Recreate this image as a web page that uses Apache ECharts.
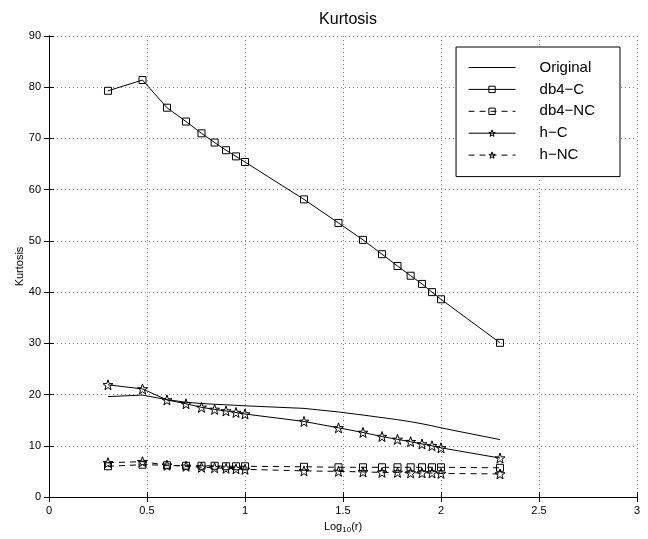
<!DOCTYPE html>
<html>
<head>
<meta charset="utf-8">
<script src="https://cdn.jsdelivr.net/npm/echarts@6/dist/echarts.min.js"></script>
<style>
  html, body { margin: 0; padding: 0; background: #fff; }
  #main { width: 648px; height: 539px; }
</style>
</head>
<body>
<div id="main"></div>
<script>
// log10(r), r = 2..10, 20..100, 200
var logR = [0.301, 0.477, 0.602, 0.699, 0.778, 0.845, 0.903, 0.954, 1.0,
            1.301, 1.477, 1.602, 1.699, 1.778, 1.845, 1.903, 1.954, 2.0, 2.301];

var original = [19.6, 19.9, 19.0, 18.5, 18.25, 18.1, 18.0, 17.9, 17.8,
                17.3, 16.6, 16.0, 15.5, 15.1, 14.7, 14.3, 13.9, 13.5, 11.2];
var db4C = [79.3, 81.4, 76.0, 73.3, 71.0, 69.2, 67.7, 66.5, 65.4,
            58.1, 53.5, 50.2, 47.4, 45.1, 43.2, 41.6, 40.0, 38.6, 30.1];
var db4NC = [6.0, 6.3, 6.2, 6.1, 6.1, 6.1, 6.0, 6.0, 6.0,
             5.9, 5.8, 5.8, 5.8, 5.8, 5.8, 5.8, 5.8, 5.8, 5.7];
var hC = [21.9, 21.1, 18.95, 18.2, 17.5, 17.1, 16.8, 16.5, 16.2,
          14.75, 13.5, 12.6, 11.8, 11.25, 10.8, 10.35, 10.0, 9.6, 7.6];
var hNC = [6.7, 6.9, 6.2, 6.0, 5.8, 5.7, 5.6, 5.5, 5.4,
           5.1, 5.0, 4.9, 4.8, 4.8, 4.7, 4.7, 4.7, 4.6, 4.5];

var seriesNames = ['Original', 'db4\u2212C', 'db4\u2212NC', 'h\u2212C', 'h\u2212NC'];

var starPath = 'path://M0,-10 L2.35,-3.24 L9.51,-3.09 L3.8,1.24 L5.88,8.09 L0,4 L-5.88,8.09 L-3.8,1.24 L-9.51,-3.09 L-2.35,-3.24 Z';
var fontFam = '"Liberation Sans", Arial, Helvetica, sans-serif';

function pairs(ys) {
  return logR.map(function (x, i) { return [x, ys[i]]; });
}

function lineSeries(name, ys, symbol, size, dashed) {
  return {
    name: name,
    type: 'line',
    data: pairs(ys),
    symbol: symbol,
    symbolSize: size,
    showSymbol: symbol !== 'none',
    lineStyle: { color: '#000', width: 1, type: dashed ? [6, 5] : 'solid' },
    itemStyle: { color: 'rgba(0,0,0,0)', borderColor: '#000', borderWidth: 1 },
    emphasis: { disabled: true },
    z: 3
  };
}

var myChart = echarts.init(document.getElementById('main'), null, { renderer: 'canvas' });

var axisCommon = {
  axisLine: { show: true, lineStyle: { color: '#000', width: 1 } },
  axisTick: { show: true, inside: true, length: 5, lineStyle: { color: '#000' } },
  axisLabel: { color: '#000', fontSize: 11, fontFamily: fontFam }
};

// legend: plain line for Original, line + marker for the others
var legendData = seriesNames.map(function (n, i) {
  if (i === 0) {
    return {
      name: n,
      icon: 'path://M0,0L100,0L100,2L0,2Z',
      itemStyle: { color: '#000', borderWidth: 0 }
    };
  }
  return { name: n };
});

var option = {
  animation: false,
  backgroundColor: '#fff',
  title: {
    text: 'Kurtosis',
    left: 343,
    top: 7,
    textAlign: 'center',
    textStyle: { fontSize: 16, fontWeight: 'normal', color: '#000', fontFamily: fontFam }
  },
  grid: { left: 49, right: 11, top: 36, bottom: 39 },
  legend: {
    orient: 'vertical',
    right: 28,
    top: 47,
    data: legendData,
    itemWidth: 47,
    itemHeight: 8,
    itemGap: 6.9,
    padding: [13, 25, 14, 12],
    borderColor: '#000',
    borderWidth: 1,
    backgroundColor: '#fff',
    selectedMode: false,
    lineStyle: { width: 1 },
    itemStyle: { borderWidth: 1 },
    textStyle: { fontSize: 15, color: '#000', fontFamily: fontFam, padding: [0, 0, 0, 19] }
  },
  xAxis: [
    Object.assign({}, axisCommon, {
      type: 'value', min: 0, max: 3, interval: 0.5,
      position: 'bottom',
      name: '{a|Log}{s|10}{a|(r)}',
      nameLocation: 'middle',
      nameGap: 22,
      nameTextStyle: {
        color: '#000', fontFamily: fontFam,
        rich: {
          a: { fontSize: 11, color: '#000', fontFamily: fontFam },
          s: { fontSize: 8, color: '#000', fontFamily: fontFam, padding: [7, 0, 0, 0] }
        }
      },
      splitLine: { show: true, lineStyle: { color: '#888', type: [1, 3], width: 1 } }
    }),
    Object.assign({}, axisCommon, {
      type: 'value', min: 0, max: 3, interval: 0.5,
      position: 'top',
      axisLabel: { show: false },
      splitLine: { show: false }
    })
  ],
  yAxis: [
    Object.assign({}, axisCommon, {
      type: 'value', min: 0, max: 90, interval: 10,
      position: 'left',
      name: 'Kurtosis',
      nameLocation: 'middle',
      nameGap: 24,
      nameMoveOverlap: false,
      nameTextStyle: { fontSize: 11, color: '#000', fontFamily: fontFam },
      splitLine: { show: true, lineStyle: { color: '#888', type: [1, 3], width: 1 } }
    }),
    Object.assign({}, axisCommon, {
      type: 'value', min: 0, max: 90, interval: 10,
      position: 'right',
      axisLabel: { show: false },
      splitLine: { show: false }
    })
  ],
  series: [
    lineSeries(seriesNames[0], original, 'none', 0, false),
    lineSeries(seriesNames[1], db4C, 'rect', 7, false),
    lineSeries(seriesNames[2], db4NC, 'rect', 7, true),
    lineSeries(seriesNames[3], hC, starPath, 10, false),
    lineSeries(seriesNames[4], hNC, starPath, 10, true)
  ]
};

myChart.setOption(option);
</script>
</body>
</html>
